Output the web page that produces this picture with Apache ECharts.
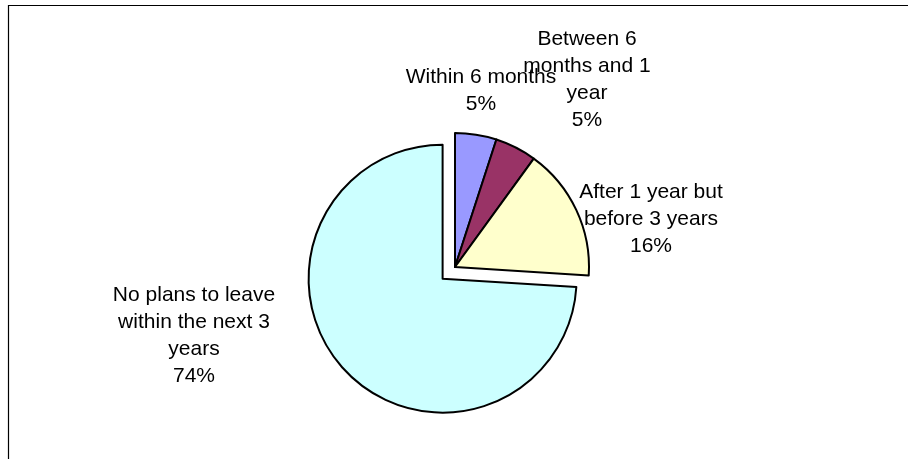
<!DOCTYPE html>
<html>
<head>
<meta charset="utf-8">
<script src="https://cdn.jsdelivr.net/npm/echarts@6/dist/echarts.min.js"></script>
<style>
html,body{margin:0;padding:0;background:#fff;}
#chart{width:908px;height:459px;}
</style>
</head>
<body>
<div id="chart"></div>
<script>
var categories = ['Within 6 months', 'Between 6\nmonths and 1\nyear', 'After 1 year but\nbefore 3 years', 'No plans to leave\nwithin the next 3\nyears'];
var values = [5, 5, 16, 74];
var explodedIndex = 3;

var colors = ['#9999FF', '#993366', '#FFFFCC', '#CCFFFF'];
var labelPos = [[481, 91], [587, 80], [651, 219], [194, 336]];

var center = [455, 267];
var radius = 134;
var explodeDist = 17;

// direction of the exploded slice's bisector, derived from the data
var total = values.reduce(function (a, b) { return a + b; }, 0);
var before = values.slice(0, explodedIndex).reduce(function (a, b) { return a + b; }, 0);
var midFrac = (before + values[explodedIndex] / 2) / total;
var midAngle = (90 - midFrac * 360) * Math.PI / 180;
var explodedCenter = [center[0] + explodeDist * Math.cos(midAngle), center[1] - explodeDist * Math.sin(midAngle)];

var font = {
  fontFamily: 'Liberation Sans, Arial, sans-serif',
  fontSize: 21,
  lineHeight: 27,
  color: '#000'
};

function makeData(showFn) {
  return categories.map(function (c, i) {
    var vis = showFn(i);
    return {
      name: c,
      value: values[i],
      itemStyle: vis ? { color: colors[i], borderColor: '#000', borderWidth: 2 }
                     : { color: 'rgba(0,0,0,0)', borderWidth: 0 },
      label: { show: vis }
    };
  });
}

function pieSeries(c, showFn) {
  return {
    type: 'pie',
    center: c,
    radius: [0, radius],
    startAngle: 90,
    clockwise: true,
    avoidLabelOverlap: false,
    silent: true,
    emphasis: { disabled: true },
    label: Object.assign({
      position: 'outside',
      align: 'center',
      formatter: function (p) { return p.name + '\n' + Math.round(p.percent) + '%'; }
    }, font),
    labelLine: { show: false },
    labelLayout: function (p) {
      var pos = labelPos[p.dataIndex];
      return { x: pos[0], y: pos[1], align: 'center', verticalAlign: 'middle' };
    },
    data: makeData(showFn)
  };
}

var chart = echarts.init(document.getElementById('chart'));
chart.setOption({
  animation: false,
  backgroundColor: '#ffffff',
  graphic: [{
    type: 'rect',
    shape: { x: 8.5, y: 5.5, width: 1000, height: 1000 },
    style: { fill: 'none', stroke: '#000', lineWidth: 1.2 },
    silent: true
  }],
  series: [
    pieSeries(center, function (i) { return i !== explodedIndex; }),
    pieSeries(explodedCenter, function (i) { return i === explodedIndex; })
  ]
});
</script>
</body>
</html>
